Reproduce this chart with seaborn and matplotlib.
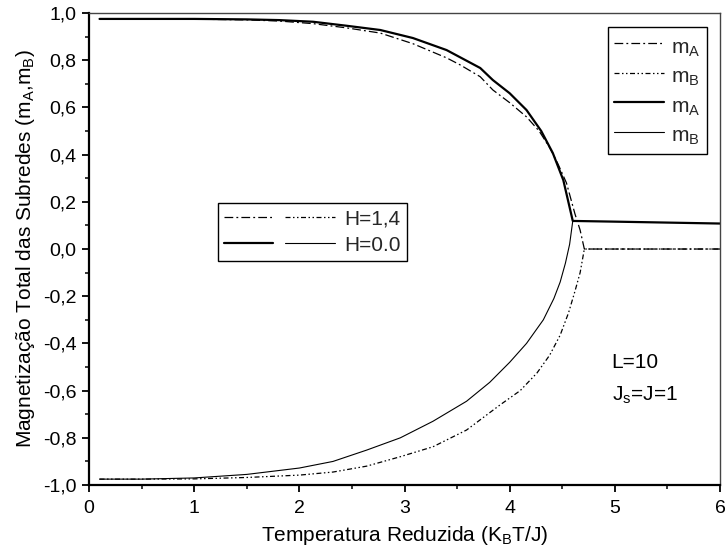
import numpy as np
import pandas as pd
import seaborn as sns
import matplotlib
matplotlib.use("Agg")
import matplotlib.pyplot as plt
from matplotlib.lines import Line2D
from matplotlib.legend_handler import HandlerTuple
from matplotlib.ticker import MultipleLocator, FuncFormatter

# Sublattice magnetisation vs reduced temperature, L=10, Js=J=1
# H = 0.0
t_a_h0 = [0.1, 0.5, 1.0, 1.5, 1.81, 2.13, 2.45, 2.77, 3.08, 3.40, 3.72, 3.84, 4.0, 4.16, 4.30, 4.41, 4.51, 4.60, 5.0, 5.5, 6.0]
m_a_h0 = [0.975, 0.975, 0.975, 0.973, 0.970, 0.963, 0.946, 0.928, 0.894, 0.843, 0.767, 0.716, 0.660, 0.589, 0.500, 0.407, 0.292, 0.119, 0.116, 0.112, 0.108]
t_b_h0 = [0.1, 0.5, 1.0, 1.5, 2.0, 2.32, 2.64, 2.96, 3.27, 3.59, 3.81, 4.0, 4.16, 4.32, 4.42, 4.48, 4.53, 4.57, 4.60]
m_b_h0 = [-0.975, -0.975, -0.970, -0.955, -0.928, -0.900, -0.852, -0.800, -0.730, -0.645, -0.565, -0.480, -0.400, -0.300, -0.210, -0.140, -0.060, 0.020, 0.119]
# H = 1.4
t_a_h14 = [0.1, 0.5, 1.0, 1.5, 1.81, 2.13, 2.45, 2.77, 3.08, 3.40, 3.53, 3.72, 3.84, 4.0, 4.16, 4.28, 4.38, 4.46, 4.54, 4.62, 4.67, 4.71, 5.0, 6.0]
m_a_h14 = [0.975, 0.975, 0.974, 0.971, 0.966, 0.955, 0.937, 0.915, 0.870, 0.810, 0.780, 0.730, 0.674, 0.620, 0.560, 0.500, 0.430, 0.360, 0.280, 0.150, 0.080, 0.0, 0.0, 0.0]
t_b_h14 = [0.1, 0.5, 1.0, 1.5, 2.0, 2.32, 2.64, 2.96, 3.27, 3.59, 3.91, 4.10, 4.26, 4.38, 4.48, 4.56, 4.62, 4.67, 4.71, 5.0, 6.0]
m_b_h14 = [-0.975, -0.975, -0.974, -0.968, -0.958, -0.945, -0.920, -0.880, -0.838, -0.767, -0.660, -0.600, -0.525, -0.450, -0.365, -0.270, -0.180, -0.100, 0.0, 0.0, 0.0]

x_ticks = [0, 1, 2, 3, 4, 5, 6]
y_ticks = [-1.0, -0.8, -0.6, -0.4, -0.2, 0.0, 0.2, 0.4, 0.6, 0.8, 1.0]

sns.set_theme(style="ticks")
plt.rcParams["font.family"] = ["Liberation Sans", "DejaVu Sans"]
plt.rcParams["mathtext.fontset"] = "custom"
plt.rcParams["mathtext.rm"] = "Liberation Sans"

fig = plt.figure(figsize=(7.25, 5.54), dpi=100)
ax = fig.add_axes([0.1228, 0.1245, 0.8703, 0.852])

dash_a = (0, (7, 2.5, 1.5, 2.5))
dash_b = (0, (4, 2, 1.2, 2, 1.2, 2))

curves = [
    (t_a_h14, m_a_h14, dash_a, 0.9),
    (t_b_h14, m_b_h14, dash_b, 0.9),
    (t_a_h0, m_a_h0, "-", 1.6),
    (t_b_h0, m_b_h0, "-", 0.8),
]
handles = []
for t, m, ls, lw in curves:
    df = pd.DataFrame({"T": t, "m": m})
    sns.lineplot(data=df, x="T", y="m", ax=ax, color="black", linestyle=ls,
                 linewidth=lw, sort=False, estimator=None)
    handles.append(Line2D([], [], color="black", linestyle=ls, linewidth=lw))

ax.set_xlim(0, 6)
ax.set_ylim(-1.0, 1.0)
ax.set_xticks(x_ticks)
ax.set_yticks(y_ticks)
ax.xaxis.set_minor_locator(MultipleLocator(0.5))
ax.yaxis.set_minor_locator(MultipleLocator(0.1))
ax.yaxis.set_major_formatter(FuncFormatter(lambda v, p: f"{v:.1f}".replace(".", ",").replace("-0,0", "0,0")))
ax.tick_params(axis="both", which="major", direction="out", length=5, width=1.3,
               labelsize=14, colors="black", pad=4)
ax.tick_params(axis="x", which="major", pad=6)
ax.tick_params(axis="both", which="minor", direction="out", length=3, width=1.1, colors="black")
ax.tick_params(top=False, right=False, which="both")

for side in ("left", "bottom"):
    ax.spines[side].set_linewidth(1.6)
    ax.spines[side].set_color("black")
for side in ("top", "right"):
    ax.spines[side].set_visible(True)
    ax.spines[side].set_linewidth(1.0)
    ax.spines[side].set_color("#444444")

ax.set_xlabel(r"Temperatura Reduzida (K$_\mathregular{B}$T/J)", fontsize=15, color="black", labelpad=5)
ax.set_ylabel(r"Magnetização Total das Subredes (m$_\mathregular{A}$,m$_\mathregular{B}$)",
              fontsize=15, color="black", labelpad=4)

leg1 = ax.legend(handles,
                 [r"m$_\mathregular{A}$", r"m$_\mathregular{B}$", r"m$_\mathregular{A}$", r"m$_\mathregular{B}$"],
                 loc="upper right", bbox_to_anchor=(0.979, 0.970), fontsize=15, frameon=True,
                 fancybox=False, edgecolor="black", framealpha=1, handlelength=2.4,
                 handleheight=1.5, labelspacing=0.2, borderpad=0.3, borderaxespad=0,
                 handletextpad=0.35)
leg1.get_frame().set_linewidth(1.0)
ax.add_artist(leg1)

pair_h14 = (Line2D([], [], color="black", linestyle=dash_a, linewidth=0.9),
            Line2D([], [], color="black", linestyle=dash_b, linewidth=0.9))
pair_h0 = (Line2D([], [], color="black", linestyle="-", linewidth=1.6),
           Line2D([], [], color="black", linestyle="-", linewidth=0.8))
leg2 = ax.legend([pair_h14, pair_h0], ["H=1,4", "H=0.0"],
                 handler_map={tuple: HandlerTuple(ndivide=None, pad=0.58)},
                 loc="upper left", bbox_to_anchor=(0.2044, 0.597), fontsize=15, frameon=True,
                 fancybox=False, edgecolor="black", framealpha=1, handlelength=5.3,
                 labelspacing=0.35, borderpad=0.3, borderaxespad=0, handletextpad=0.45)
leg2.get_frame().set_linewidth(1.0)

ax.text(4.97, -0.48, "L=10", fontsize=15, color="black", ha="left", va="center")
ax.text(4.97, -0.62, r"J$_\mathregular{s}$=J=1", fontsize=15, color="black", ha="left", va="center")

fig.savefig("out.png", dpi=100)
